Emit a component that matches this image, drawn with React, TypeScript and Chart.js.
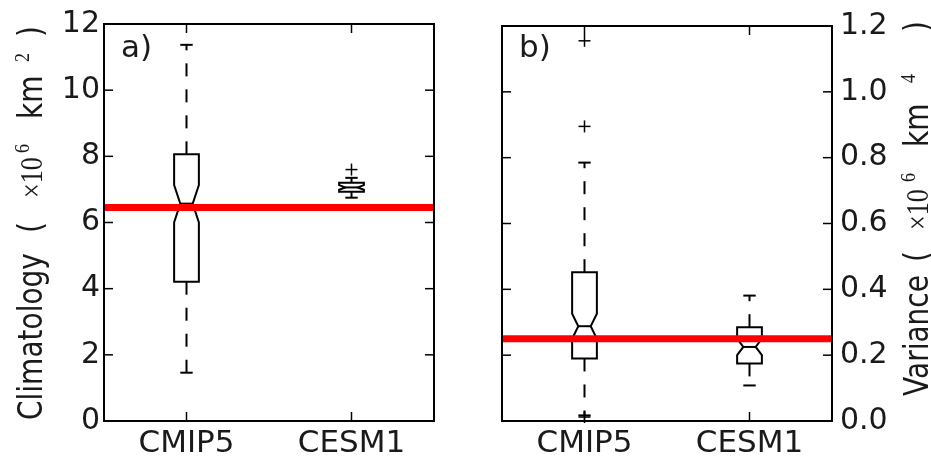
import React, { useEffect, useRef } from 'react';
import { Chart, registerables } from 'chart.js';
Chart.register(...registerables);

// ---------- data ----------
const categories = ['CMIP5', 'CESM1'];

// panel a) Climatology (x10^6 km^2)
const climTicks = [0, 2, 4, 6, 8, 10, 12];
const climWhiskerLow = [1.46, 6.75];
const climQ1 = [4.21, 6.93];
const climNotchLow = [6.0, 6.99];
const climMedian = [6.57, 7.06];
const climNotchHigh = [7.13, 7.13];
const climQ3 = [8.06, 7.2];
const climWhiskerHigh = [11.37, 7.35];
const climFliers = [[], [7.6]];
const climReference = 6.45;

// panel b) Variance (x10^6 km^4)
const varTicks = [0.0, 0.2, 0.4, 0.6, 0.8, 1.0, 1.2];
const varWhiskerLow = [0.017, 0.108];
const varQ1 = [0.19, 0.175];
const varNotchLow = [0.25, 0.2];
const varMedian = [0.288, 0.225];
const varNotchHigh = [0.326, 0.25];
const varQ3 = [0.452, 0.285];
const varWhiskerHigh = [0.785, 0.381];
const varFliers = [[1.155, 0.895, 0.012], []];
const varReference = 0.25;

const TEXT = '#1a1a1a';
const SANS = 'DejaVu Sans';
const SERIF = 'Liberation Serif';

type Seg = { t: string; font: string; at: number; rise?: number };

function drawRotated(ctx: CanvasRenderingContext2D, x: number, y: number, segs: Seg[]) {
  ctx.save();
  ctx.translate(x, y);
  ctx.scale(1.18, 1);
  ctx.rotate(-Math.PI / 2);
  ctx.fillStyle = TEXT;
  ctx.textBaseline = 'alphabetic';
  ctx.textAlign = 'left';
  for (const s of segs) {
    ctx.font = s.font;
    ctx.fillText(s.t, s.at, -(s.rise || 0));
  }
  ctx.restore();
}

type Stats = {
  wl: number[]; q1: number[]; nl: number[]; med: number[]; nh: number[]; q3: number[]; wh: number[];
  fliers: number[][]; ref: number; ticks: number[];
};

function makePlugin(stats: Stats, label: string, labelX: number, title: (ctx: CanvasRenderingContext2D) => void) {
  return {
    id: 'boxes',
    afterDraw(chart: any) {
      const ctx: CanvasRenderingContext2D = chart.ctx;
      const xs = chart.scales.x;
      const ys = chart.scales.y;
      const a = chart.chartArea;
      const unit = xs.getPixelForValue(1) - xs.getPixelForValue(0);
      const Y = (v: number) => ys.getPixelForValue(v);
      ctx.save();
      ctx.strokeStyle = '#000';
      ctx.lineCap = 'butt';
      const line = (x1: number, y1: number, x2: number, y2: number) => {
        ctx.beginPath(); ctx.moveTo(x1, y1); ctx.lineTo(x2, y2); ctx.stroke();
      };
      categories.forEach((_, i) => {
        const cx = xs.getPixelForValue(i);
        const hw = (0.15 * unit) / 2;
        const nw = hw / 2;
        ctx.lineWidth = 2;
        // whiskers
        ctx.setLineDash([13, 13]);
        line(cx, Y(stats.q3[i]), cx, Y(stats.wh[i]));
        line(cx, Y(stats.q1[i]), cx, Y(stats.wl[i]));
        ctx.setLineDash([]);
        // caps
        line(cx - nw, Y(stats.wh[i]), cx + nw, Y(stats.wh[i]));
        line(cx - nw, Y(stats.wl[i]), cx + nw, Y(stats.wl[i]));
        // notched box
        const L = cx - hw, R = cx + hw, nL = cx - nw, nR = cx + nw;
        const pts: [number, number][] = [
          [L, stats.q1[i]], [R, stats.q1[i]], [R, stats.nl[i]], [nR, stats.med[i]], [R, stats.nh[i]],
          [R, stats.q3[i]], [L, stats.q3[i]], [L, stats.nh[i]], [nL, stats.med[i]], [L, stats.nl[i]], [L, stats.q1[i]],
        ];
        ctx.beginPath();
        pts.forEach(([px, v], k) => (k ? ctx.lineTo(px, Y(v)) : ctx.moveTo(px, Y(v))));
        ctx.closePath();
        ctx.lineJoin = 'miter';
        ctx.stroke();
        // median
        line(nL, Y(stats.med[i]), nR, Y(stats.med[i]));
        // fliers
        ctx.lineWidth = 1.5;
        stats.fliers[i].forEach((v) => {
          const py = Y(v);
          line(cx - 6, py, cx + 6, py);
          line(cx, py - 6, cx, py + 6);
        });
      });
      // reference line
      ctx.strokeStyle = '#ff0000';
      ctx.lineWidth = 7;
      line(a.left, Y(stats.ref), a.right, Y(stats.ref));
      // ticks
      ctx.strokeStyle = '#000';
      ctx.lineWidth = 1.5;
      stats.ticks.forEach((t) => {
        const py = Y(t);
        line(a.left, py, a.left + 9, py);
        line(a.right, py, a.right - 9, py);
      });
      categories.forEach((_, i) => {
        const px = xs.getPixelForValue(i);
        line(px, a.top, px, a.top + 9);
        line(px, a.bottom, px, a.bottom - 9);
      });
      // frame
      ctx.lineWidth = 2;
      ctx.strokeRect(a.left, a.top, a.right - a.left, a.bottom - a.top);
      // panel label
      ctx.fillStyle = TEXT;
      ctx.font = `31px "${SANS}"`;
      ctx.textBaseline = 'alphabetic';
      ctx.textAlign = 'left';
      ctx.fillText(label, labelX, 57);
      title(ctx);
      ctx.restore();
    },
  };
}

function baseOptions(yPos: 'left' | 'right', min: number, max: number, step: number, yWidth: number, padding: any, fmt: (v: number) => string) {
  return {
    animation: false,
    responsive: false,
    devicePixelRatio: 1,
    layout: { padding },
    plugins: { legend: { display: false }, tooltip: { enabled: false } },
    scales: {
      x: {
        type: 'category',
        offset: true,
        grid: { display: false, drawTicks: false },
        border: { display: false },
        ticks: { font: { family: SANS, size: 31 }, color: TEXT, padding: 4, maxRotation: 0, autoSkip: false },
        afterFit: (s: any) => { s.height = 40; },
      },
      y: {
        type: 'linear',
        position: yPos,
        min, max,
        grid: { display: false, drawTicks: false },
        border: { display: false },
        ticks: { stepSize: step, font: { family: SANS, size: 30 }, color: TEXT, padding: yPos === 'left' ? 4 : 8, autoSkip: false, callback: (v: any) => fmt(Number(v)) },
        afterFit: (s: any) => { s.width = yWidth; },
      },
    },
  };
}

export default function App() {
  const refA = useRef<HTMLCanvasElement>(null);
  const refB = useRef<HTMLCanvasElement>(null);

  useEffect(() => {
    const f28 = `28px "${SANS}"`;
    const m24 = `26px "${SERIF}"`;
    const s18 = `18px "${SERIF}"`;
    const titleA = (ctx: CanvasRenderingContext2D) =>
      drawRotated(ctx, 42, 420, [
        { t: 'Climatology', font: f28, at: 0 },
        { t: '(', font: f28, at: 187 },
        { t: '×10', font: m24, at: 222 },
        { t: '6', font: s18, at: 267, rise: 11 },
        { t: 'km', font: f28, at: 301 },
        { t: '2', font: s18, at: 358, rise: 11 },
        { t: ')', font: f28, at: 383 },
      ]);
    const titleB = (ctx: CanvasRenderingContext2D) =>
      drawRotated(ctx, 928 - 466, 396, [
        { t: 'Variance', font: f28, at: 0 },
        { t: '(', font: f28, at: 134 },
        { t: '×10', font: m24, at: 166 },
        { t: '6', font: s18, at: 214, rise: 11 },
        { t: 'km', font: f28, at: 249 },
        { t: '4', font: s18, at: 313, rise: 11 },
        { t: ')', font: f28, at: 364 },
      ]);

    const statsA: Stats = {
      wl: climWhiskerLow, q1: climQ1, nl: climNotchLow, med: climMedian, nh: climNotchHigh, q3: climQ3,
      wh: climWhiskerHigh, fliers: climFliers, ref: climReference, ticks: climTicks,
    };
    const statsB: Stats = {
      wl: varWhiskerLow, q1: varQ1, nl: varNotchLow, med: varMedian, nh: varNotchHigh, q3: varQ3,
      wh: varWhiskerHigh, fliers: varFliers, ref: varReference, ticks: varTicks,
    };

    const chartA = new Chart(refA.current as HTMLCanvasElement, {
      type: 'line',
      data: { labels: categories, datasets: [] },
      options: baseOptions('left', 0, 12, 2, 104, { left: 0, top: 24, right: 32, bottom: 0 }, (v) => String(Math.round(v))) as any,
      plugins: [makePlugin(statsA, 'a)', 121, titleA)],
    });
    const chartB = new Chart(refB.current as HTMLCanvasElement, {
      type: 'line',
      data: { labels: categories, datasets: [] },
      options: baseOptions('right', 0, 1.2, 0.2, 99, { left: 36, top: 24, right: 0, bottom: 0 }, (v) => v.toFixed(1)) as any,
      plugins: [makePlugin(statsB, 'b)', 519 - 466, titleB)],
    });
    return () => { chartA.destroy(); chartB.destroy(); };
  }, []);

  return (
    <div style={{ position: 'absolute', left: 0, top: 0, width: 931, height: 461, background: '#fff' }}>
      <canvas ref={refA} width={466} height={461} style={{ position: 'absolute', left: 0, top: 0 }} />
      <canvas ref={refB} width={465} height={461} style={{ position: 'absolute', left: 466, top: 0 }} />
    </div>
  );
}
